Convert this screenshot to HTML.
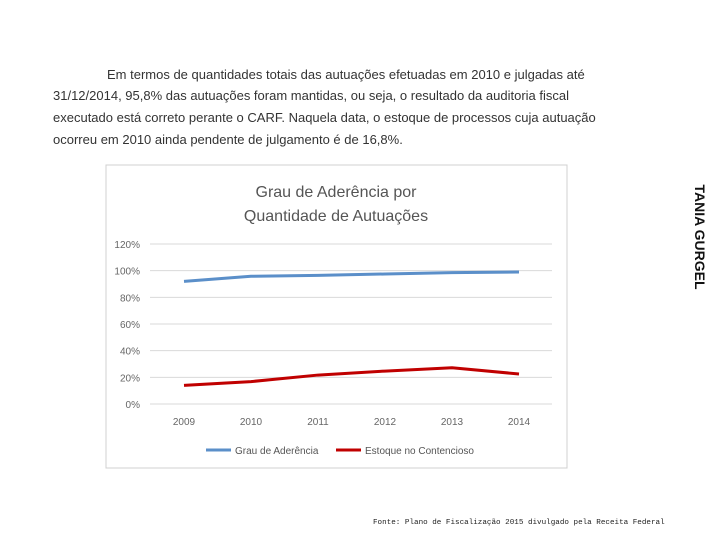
<!DOCTYPE html>
<html><head><meta charset="utf-8"><style>
body{margin:0;width:720px;height:540px;background:#fff;position:relative;overflow:hidden;font-family:"Liberation Sans",sans-serif}
.t{position:absolute;font-size:13px;color:#333;white-space:nowrap}
</style></head><body>
<div class="t" style="left:107px;top:67px">Em termos de quantidades totais das autuações efetuadas em 2010 e julgadas até</div>
<div class="t" style="left:53px;top:88px">31/12/2014, 95,8% das autuações foram mantidas, ou seja, o resultado da auditoria fiscal</div>
<div class="t" style="left:53px;top:110px">executado está correto perante o CARF. Naquela data, o estoque de processos cuja autuação</div>
<div class="t" style="left:53px;top:132px">ocorreu em 2010 ainda pendente de julgamento é de 16,8%.</div>
<div style="position:absolute;left:640px;top:229px;width:120px;transform:rotate(90deg);transform-origin:center;font-weight:bold;font-size:14px;color:#111;text-align:center;white-space:nowrap">TANIA GURGEL</div>
<div style="position:absolute;left:373px;top:519px;font-family:'Liberation Mono',monospace;font-size:7.6px;color:#222;white-space:nowrap">Fonte: Plano de Fiscalização 2015 divulgado pela Receita Federal</div>
<svg id="c" width="720" height="540" style="position:absolute;left:0;top:0">
<rect x="106" y="165" width="461" height="303" fill="#fff" stroke="#d0d0d0"/>
<text x="336" y="197" text-anchor="middle" font-size="16" fill="#555">Grau de Aderência por</text>
<text x="336" y="221" text-anchor="middle" font-size="16" fill="#555">Quantidade de Autuações</text>
</svg>
<script>
const years=['2009','2010','2011','2012','2013','2014'];
const grau=[92,95.8,96.5,97.5,98.5,99];
const estoque=[14,16.8,21.7,24.7,27.2,22.5];
const ticks=[0,20,40,60,80,100,120];
const svg=document.getElementById('c');
const NS='http://www.w3.org/2000/svg';
const y=v=>404-v*(160/120);
const x=i=>184+i*67;
function mk(t,a){const e=document.createElementNS(NS,t);for(const k in a)e.setAttribute(k,a[k]);svg.appendChild(e);return e;}
ticks.forEach(v=>{
 const l=mk('line',{x1:150,x2:552,y1:y(v),y2:y(v),stroke:'#d9d9d9','stroke-width':1});
 
 
 const t=mk('text',{x:140,y:y(v)+4,'text-anchor':'end','font-size':10,fill:'#666'});t.textContent=v+'%';
 
 
});
years.forEach((yr,i)=>{
 const t=mk('text',{x:x(i),y:425,'text-anchor':'middle','font-size':10,fill:'#666'});t.textContent=yr;
 
 
});
function series(d,c,n){
 const p=mk('polyline',{points:d.map((v,i)=>x(i)+','+y(v)).join(' '),fill:'none',stroke:c,'stroke-width':3,'stroke-linejoin':'round'});
 
 
}
series(grau,'#5b8fc9','line-grau-de-aderencia');
series(estoque,'#c00000','line-estoque-no-contencioso');
const l1=mk('line',{x1:206,x2:231,y1:450,y2:450,stroke:'#5b8fc9','stroke-width':3});


const t1=mk('text',{x:235,y:454,'font-size':10,fill:'#555'});t1.textContent='Grau de Aderência';


const l2=mk('line',{x1:336,x2:361,y1:450,y2:450,stroke:'#c00000','stroke-width':3});


const t2=mk('text',{x:365,y:454,'font-size':10,fill:'#555'});t2.textContent='Estoque no Contencioso';


</script>
</body></html>
